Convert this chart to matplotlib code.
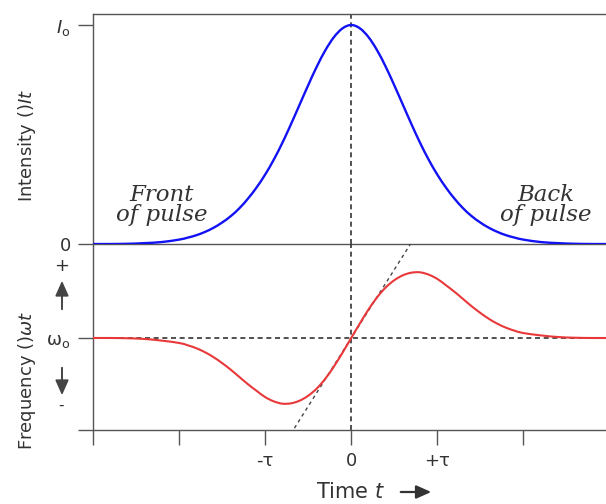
import matplotlib.pyplot as plt
from matplotlib.path import Path
from matplotlib.patches import PathPatch, FancyArrowPatch

# time in units of tau
t = [-3.0, -2.8, -2.6, -2.4, -2.2, -2.0, -1.9, -1.8, -1.7, -1.6, -1.5, -1.4, -1.3,
     -1.2, -1.1, -1.0, -0.9, -0.8, -0.7, -0.6, -0.5, -0.4, -0.3, -0.2, -0.1, 0.0,
     0.1, 0.2, 0.3, 0.4, 0.5, 0.6, 0.7, 0.8, 0.9, 1.0, 1.1, 1.2, 1.3, 1.4, 1.5,
     1.6, 1.7, 1.8, 1.9, 2.0, 2.2, 2.4, 2.6, 2.8, 2.96]

# intensity, in units of I0
intensity = [0.0, 0.0, 0.001, 0.004, 0.009, 0.02, 0.029, 0.04, 0.055, 0.074, 0.098,
             0.127, 0.163, 0.207, 0.258, 0.317, 0.385, 0.462, 0.547, 0.636, 0.725,
             0.81, 0.885, 0.945, 0.985, 1.0, 0.985, 0.945, 0.885, 0.81, 0.725,
             0.636, 0.547, 0.462, 0.385, 0.317, 0.258, 0.207, 0.163, 0.127, 0.098,
             0.074, 0.055, 0.04, 0.029, 0.02, 0.009, 0.004, 0.001, 0.0, 0.0]

# frequency shift from omega0 (relative)
freq = [0.0, 0.0, -0.004, -0.015, -0.04, -0.075, -0.11, -0.155, -0.215, -0.29,
        -0.38, -0.48, -0.59, -0.70, -0.80, -0.895, -0.96, -0.995, -0.99, -0.95,
        -0.875, -0.765, -0.615, -0.43, -0.22, 0.0, 0.22, 0.43, 0.615, 0.765,
        0.875, 0.95, 0.99, 0.995, 0.96, 0.895, 0.80, 0.70, 0.59, 0.48, 0.38,
        0.29, 0.215, 0.155, 0.11, 0.075, 0.04, 0.015, 0.004, 0.0, 0.0]

# tangent at the pulse centre
tangent_t = [-0.66, 0.69]
tangent_slope = 2.07

xticks = [-3, -2, -1, 0, 1, 2]
xtick_labels = ['', '', '-τ', '0', '+τ', '']

axis_col = '#555555'
text_col = '#333333'


def smooth_curve(ax, x, y, **kw):
    # draw a smooth line through the points (Catmull-Rom as cubic Beziers)
    verts = [(x[0], y[0])]
    codes = [Path.MOVETO]
    n = len(x)
    for i in range(n - 1):
        x0, y0 = (x[i - 1], y[i - 1]) if i > 0 else (x[i], y[i])
        x3, y3 = (x[i + 2], y[i + 2]) if i + 2 < n else (x[i + 1], y[i + 1])
        x1, y1 = x[i], y[i]
        x2, y2 = x[i + 1], y[i + 1]
        c1 = (x1 + (x2 - x0) / 6, y1 + (y2 - y0) / 6)
        c2 = (x2 - (x3 - x1) / 6, y2 - (y3 - y1) / 6)
        verts += [c1, c2, (x2, y2)]
        codes += [Path.CURVE4] * 3
    ax.add_patch(PathPatch(Path(verts, codes), fill=False, **kw))


fig = plt.figure(figsize=(6.06, 5.04), dpi=100)
ax1 = fig.add_axes([93/606, 1 - 244/504, 1 - 93/606, 230/504])
ax2 = fig.add_axes([93/606, 1 - 430/504, 1 - 93/606, 186/504])

for ax in (ax1, ax2):
    ax.set_xlim(-3, 2.96)
    ax.patch.set_alpha(0)
    ax.spines['right'].set_visible(False)
    for s in ax.spines.values():
        s.set_color(axis_col)
        s.set_linewidth(1.0)
    ax.tick_params(axis='both', direction='out', length=11, width=1.0,
                   color=axis_col, labelcolor=text_col, labelsize=13, pad=5)
    ax.axvline(0, color='#333333', lw=1.2, dashes=(3, 2.2), zorder=1)

ax2.spines['top'].set_visible(False)

# top panel: intensity
ax1.set_ylim(0, 230/219)
smooth_curve(ax1, t, intensity, edgecolor='#1212f5', lw=1.7, zorder=3)
ax1.set_xticks([])
ax1.set_yticks([0, 1])
ax1.set_yticklabels(['0', r'$I_\mathrm{o}$'])

ax1.text(-2.2, 0.178, 'Front\nof pulse', family='DejaVu Serif', style='italic',
         fontsize=16.5, color=text_col, ha='center', va='center', linespacing=0.93)
ax1.text(2.26, 0.178, 'Back\nof pulse', family='DejaVu Serif', style='italic',
         fontsize=16.5, color=text_col, ha='center', va='center', linespacing=0.93)

# bottom panel: frequency
ax2.set_ylim(-92/66, 94/66)
ax2.axhline(0, color='#333333', lw=1.2, dashes=(3, 2.2), zorder=1)
ax2.plot(tangent_t, [tangent_slope * v for v in tangent_t], color='#444444',
         lw=1.0, dashes=(2.5, 2.5), zorder=2)
smooth_curve(ax2, t, freq, edgecolor='#e8383a', lw=1.5, zorder=3)
ax2.set_xticks(xticks)
ax2.set_xticklabels(xtick_labels)
ax2.set_yticks([-92/66, 0])
ax2.set_yticklabels(['', r'$\mathrm{\omega}_\mathrm{o}$'])

# +/- arrows beside the frequency axis
fig.text(62/606, 1 - 266/504, '+', fontsize=13, color=text_col, ha='center', va='center')
fig.text(61/606, 1 - 405/504, '-', fontsize=11, color=text_col, ha='center', va='center')
for y0, y1 in [(312, 278), (365, 398)]:
    fig.add_artist(FancyArrowPatch(
        (62/606, 1 - y0/504), (62/606, 1 - y1/504), transform=fig.transFigure,
        arrowstyle='-|>,head_width=4,head_length=9', color='#444444', lw=1.4))

# axis titles
narrow = ['Liberation Sans Narrow', 'DejaVu Sans']
fig.text(27/606, 1 - 145/504, r'Intensity ()$\mathit{It}$', rotation=90, fontsize=13,
         family=narrow, color=text_col, ha='center', va='center')
fig.text(27/606, 1 - 380/504, r'Frequency ()$\omega t$', rotation=90, fontsize=13,
         family=narrow, color=text_col, ha='center', va='center')

fig.text(351/606, 1 - 492/504, 'Time $t$', fontsize=15, color=text_col,
         ha='center', va='center')
fig.add_artist(FancyArrowPatch(
    (398/606, 1 - 492/504), (434/606, 1 - 492/504), transform=fig.transFigure,
    arrowstyle='-|>,head_width=4,head_length=9', color='#333333', lw=1.6))

fig.savefig('out.png', dpi=100)
